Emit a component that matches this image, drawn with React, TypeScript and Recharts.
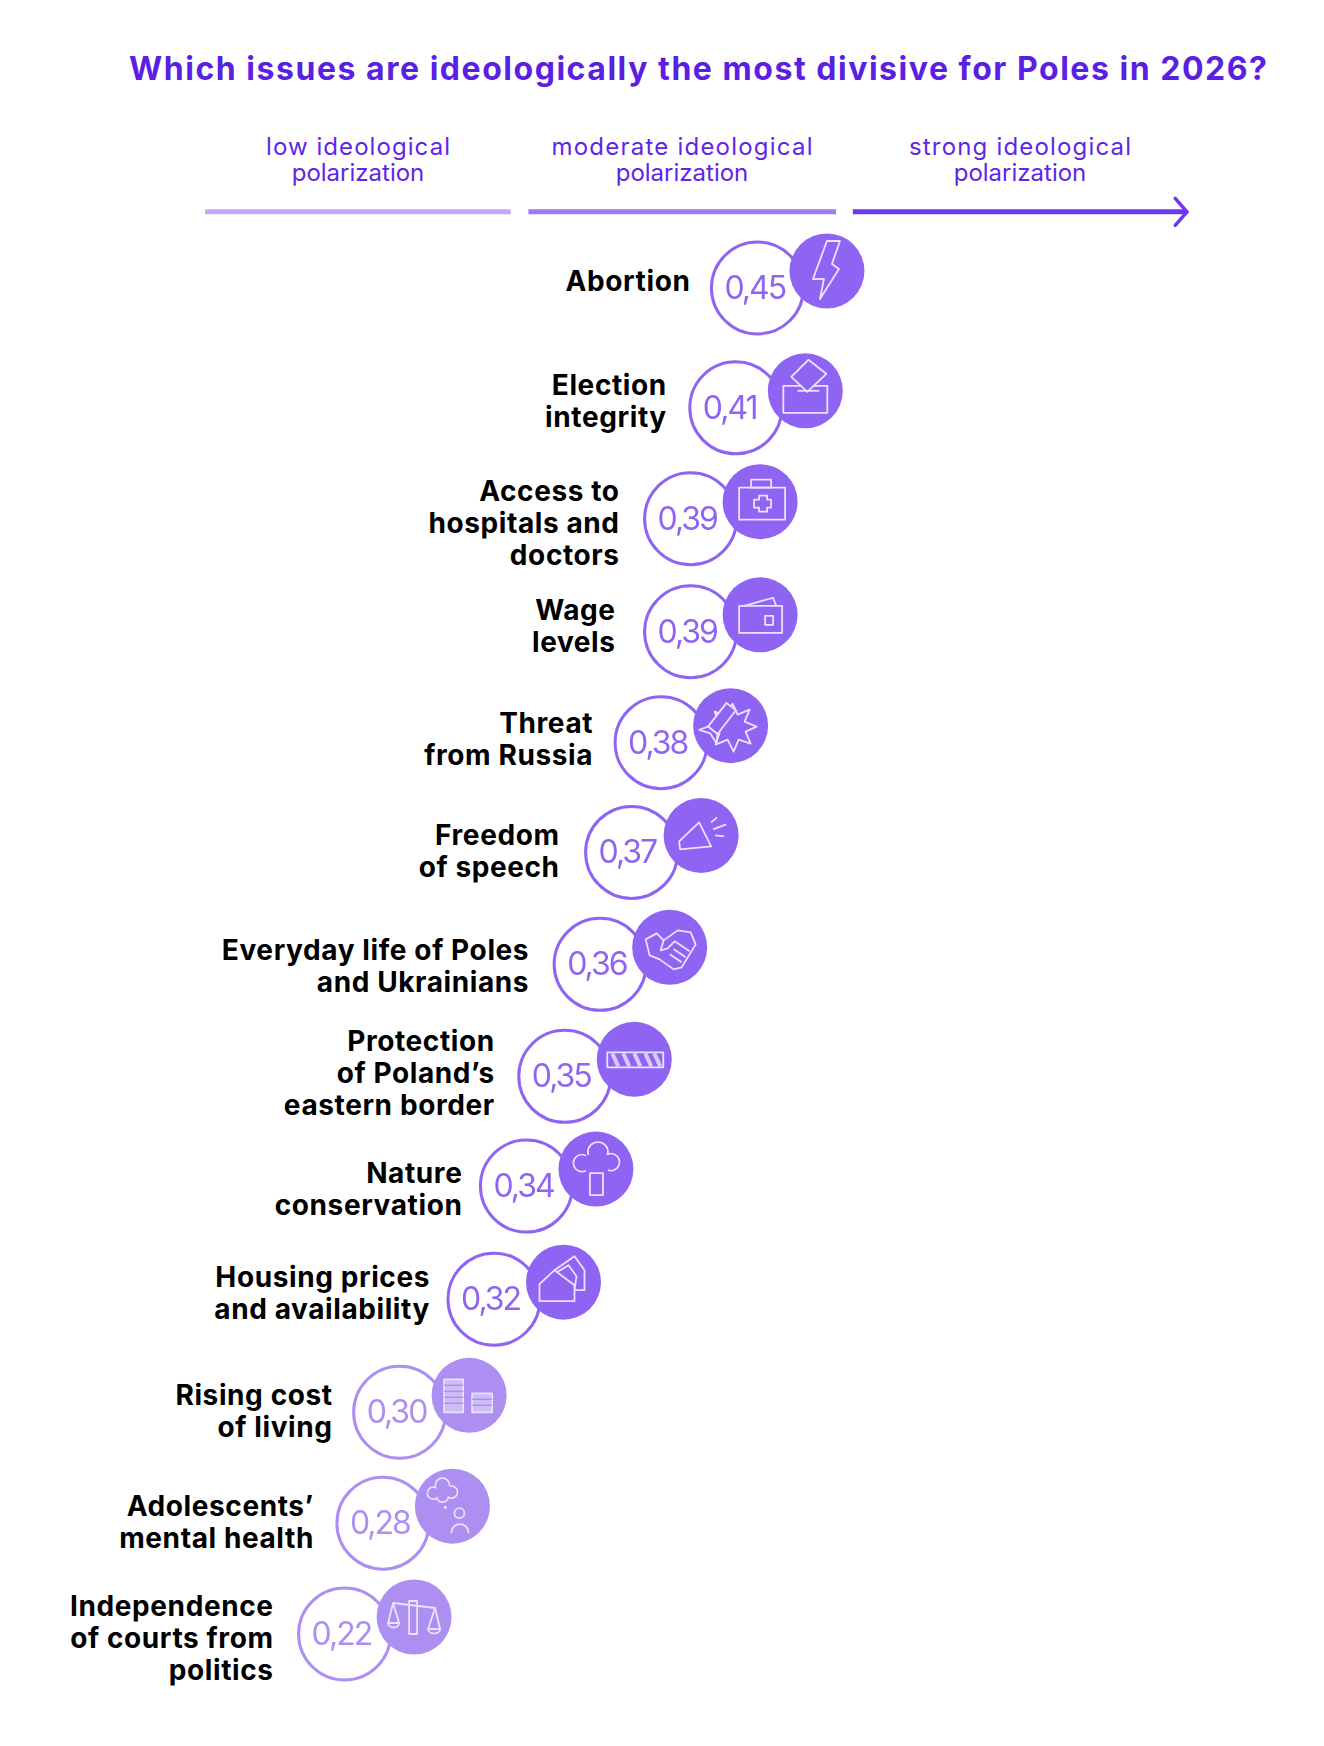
import React from 'react';
import { ScatterChart, Scatter, XAxis, YAxis, ReferenceLine } from 'recharts';

// Chart data, top row first
const issueLabels: string[][] = [
  ['Abortion'],
  ['Election', 'integrity'],
  ['Access to', 'hospitals and', 'doctors'],
  ['Wage', 'levels'],
  ['Threat', 'from Russia'],
  ['Freedom', 'of speech'],
  ['Everyday life of Poles', 'and Ukrainians'],
  ['Protection', 'of Poland’s', 'eastern border'],
  ['Nature', 'conservation'],
  ['Housing prices', 'and availability'],
  ['Rising cost', 'of living'],
  ['Adolescents’', 'mental health'],
  ['Independence', 'of courts from', 'politics'],
];
const polarization = [0.45, 0.41, 0.39, 0.39, 0.38, 0.37, 0.36, 0.35, 0.34, 0.32, 0.3, 0.28, 0.22];
// where each circle sits along the low -> strong arrow (0-100).
// the original does not place them linearly by the printed number
const arrowPosition = [56.2, 54.0, 49.4, 49.4, 46.4, 43.4, 40.2, 36.6, 32.7, 29.4, 19.8, 18.1, 14.2];
const rowPosition = [0, 1.07, 2.06, 3.07, 4.06, 5.04, 6.04, 7.04, 8.02, 9.03, 10.04, 11.03, 12.02];
const iconNames = ['bolt', 'ballot', 'medkit', 'wallet', 'blast', 'megaphone', 'handshake', 'fence', 'tree', 'houses', 'coins', 'mind', 'scales'];
const tierLabels = [['low ideological', 'polarization'], ['moderate ideological', 'polarization'], ['strong ideological', 'polarization']];
const tierCenters = [358, 682, 1020];
const tierWidths = [184, 261, 222];
const tierColors = ['#c2a8f6', '#9c78f1', '#6d38ee'];
const tierSpans = [[0, 31.1], [32.9, 64.2], [65.9, 99.9]];

// label tweaks per row (distance from circle centre, vertical nudge)
const labelGaps = [67, 69, 71, 75, 68, 72, 71, 70, 64, 64, 67, 69, 71];
const labelNudges = [-7, -7, 4, -6, -4, -1, 2, -3, 3, -6, -1, -1, 4];

const rows = polarization.map((value, i) => ({
  x: arrowPosition[i],
  y: rowPosition[i],
  value,
  lines: issueLabels[i],
  icon: iconNames[i],
  gap: labelGaps[i],
  nudge: labelNudges[i],
}));

const FONT = 'Inter, sans-serif';
const ARROW_ROW = -0.68;

const Icon = ({ name, bg }: { name: string; bg: string }) => {
  const line = { fill: 'none', stroke: '#eae2fc', strokeWidth: 1.8, strokeLinejoin: 'round' as const };
  const solid = { ...line, fill: bg };
  switch (name) {
    case 'bolt':
      return <polygon {...line} points="0,-30 13,-30 5,-7 12,-2 -7,28 -3,8 -14,8" />;
    case 'ballot':
      return (
        <g>
          <rect {...line} x={-22} y={-5} width={44} height={27} />
          <polygon {...solid} points="3,-31 21,-17 2,1 -14,-14" />
          <line {...line} x1={-8} y1={0} x2={14} y2={0} />
        </g>
      );
    case 'medkit':
      return (
        <g>
          <rect {...line} x={-9} y={-22} width={20} height={8} />
          <rect {...line} x={-21} y={-14} width={46} height={32} />
          <polygon {...line} points="-1,-6 7,-6 7,-2 11,-2 11,6 7,6 7,10 -1,10 -1,6 -6,6 -6,-2 -1,-2" />
        </g>
      );
    case 'wallet':
      return (
        <g>
          <polyline {...line} points="-16,-9 13,-17 16,-9" />
          <rect {...line} x={-21} y={-9} width={43} height={27} />
          <rect {...line} x={5} y={1} width={8} height={9} />
        </g>
      );
    case 'blast':
      return (
        <g>
          <polygon {...line} points="2,-22 7,-11 19,-16 14,-4 26,1 15,6 20,18 8,14 3,26 -3,14 -15,19 -11,7 -24,3 -12,-3 -16,-14 -6,-10" />
          <g transform="rotate(-52 -8 -8)">
            <rect {...solid} x={-24} y={-14} width={30} height={12} />
            <polygon {...solid} points="-24,-14 -32,-19 -28,-8 -32,3 -24,-2" />
          </g>
        </g>
      );
    case 'megaphone':
      return (
        <g>
          <polygon {...line} points="-2,-13 10,11 -21,14 -22,6" />
          <line {...line} x1={10} y1={-13} x2={16} y2={-18} />
          <line {...line} x1={12} y1={-6} x2={25} y2={-11} />
          <line {...line} x1={14} y1={0} x2={23} y2={1} />
        </g>
      );
    case 'handshake':
      return (
        <g>
          <polygon {...line} points="-24,-8 -13,-14 -6,-7 8,-17 21,-15 26,-3 12,20 4,22 -10,12 -20,8" />
          <polyline {...line} points="-6,-7 -9,3 -2,1 5,-6 20,4" />
          <line {...line} x1={4} y1={2} x2={16} y2={10} />
          <line {...line} x1={0} y1={7} x2={12} y2={15} />
        </g>
      );
    case 'fence':
      return (
        <g>
          <rect {...line} x={-27} y={-7} width={56} height={15} />
          {[-22, -11, 0, 11, 20].map((h) => (
            <line key={h} x1={h} y1={-6} x2={h + 6} y2={7} stroke="#d8caf9" strokeWidth={4} />
          ))}
        </g>
      );
    case 'tree':
      return (
        <g>
          <rect {...line} x={-6} y={4} width={13} height={22} />
          <circle {...line} cx={2} cy={-17} r={10} />
          <circle {...line} cx={-14} cy={-6} r={8.5} />
          <circle {...line} cx={15} cy={-7} r={8.5} />
          <circle cx={2} cy={-17} r={9} fill={bg} />
          <circle cx={-14} cy={-6} r={7.5} fill={bg} />
          <circle cx={15} cy={-7} r={7.5} fill={bg} />
          <rect x={-10} y={-14} width={22} height={16} fill={bg} />
        </g>
      );
    case 'houses':
      return (
        <g>
          <polygon {...line} points="-9,-12 11,-26 21,-12 21,8 -9,8" />
          <polygon {...solid} points="-13,-6 5,-17 13,-6 11,8 -13,8" />
          <polygon {...solid} points="-24,2 -9,-12 11,3 11,19 -24,19" />
        </g>
      );
    case 'coins':
      return (
        <g fill="#d8caf9">
          <rect {...line} x={-25} y={-16} width={19} height={33} fillOpacity={1} style={{ fill: '#cdbcf7' }} />
          <rect {...line} x={3} y={-2} width={20} height={19} style={{ fill: '#cdbcf7' }} />
          {[-10, -4, 2, 8].map((h) => (
            <line key={h} x1={-25} y1={h} x2={-6} y2={h} stroke={bg} strokeWidth={1.5} />
          ))}
          {[4, 10].map((h) => (
            <line key={h} x1={3} y1={h} x2={23} y2={h} stroke={bg} strokeWidth={1.5} />
          ))}
        </g>
      );
    case 'mind':
      return (
        <g>
          <circle {...line} cx={-10} cy={-21} r={7} />
          <circle {...line} cx={-19} cy={-13} r={6} />
          <circle {...line} cx={-1} cy={-14} r={6} />
          <circle {...line} cx={-10} cy={-10} r={6} />
          <circle cx={-10} cy={-21} r={6} fill={bg} />
          <circle cx={-19} cy={-13} r={5} fill={bg} />
          <circle cx={-1} cy={-14} r={5} fill={bg} />
          <circle cx={-10} cy={-10} r={5} fill={bg} />
          <rect x={-16} y={-20} width={14} height={10} fill={bg} />
          <circle cx={-7} cy={1} r={1.5} fill="#eae2fc" />
          <circle {...line} cx={7} cy={7} r={5} />
          <path {...line} d="M-1,27 C-1,15 16,15 16,27" />
        </g>
      );
    case 'scales':
      return (
        <g>
          <rect {...line} x={-5} y={-16} width={8} height={33} />
          <line {...line} x1={-21} y1={-14} x2={21} y2={-9} />
          <polygon {...line} points="-21,-14 -26,6 -15,6" />
          <path {...line} d="M-26,6 C-26,12 -15,12 -15,6" />
          <polygon {...line} points="21,-9 14,12 26,12" />
          <path {...line} d="M14,12 C14,18 26,18 26,12" />
        </g>
      );
    default:
      return null;
  }
};

const IssueMark = (props: any) => {
  const { cx, cy, payload } = props;
  const { value, lines, icon, gap, nudge } = payload;
  const color = value >= 0.32 ? '#9064f3' : '#ad8ff2';
  const firstBaseline = cy + nudge + 10 - ((lines.length - 1) * 32) / 2;
  return (
    <g>
      {lines.map((t: string, i: number) => (
        <text
          key={t}
          x={cx - gap}
          y={firstBaseline + i * 32}
          textAnchor="end"
          fontFamily={FONT}
          fontSize={28}
          fontWeight={700}
          letterSpacing={0.6}
          fill="#000"
        >
          {t}
        </text>
      ))}
      <g style={{ filter: 'blur(0.7px)' }}>
        <circle cx={cx} cy={cy} r={46} fill="#fff" stroke={color} strokeWidth={3} />
        <text
          x={cx - 33}
          y={cy + 11}
          fontFamily={FONT}
          fontSize={32}
          fontWeight={400}
          letterSpacing={-2}
          fill={color}
        >
          {value.toFixed(2).replace('.', ',')}
        </text>
        <g transform={`translate(${cx + 69.5} ${cy - 17})`}>
          <circle r={37.5} fill={color} />
          <Icon name={icon} bg={color} />
        </g>
      </g>
    </g>
  );
};

export default function App() {
  return (
    <div style={{ position: 'absolute', left: 0, top: 0, width: 1324, height: 1746 }}>
      <ScatterChart width={1324} height={1746} margin={{ top: 288, right: 136, bottom: 112, left: 205 }}>
        <XAxis type="number" dataKey="x" domain={[0, 100]} hide />
        <YAxis type="number" dataKey="y" domain={[0, 12.02]} reversed hide />
        {tierSpans.map(([a, b], i) => (
          <ReferenceLine
            key={a}
            segment={[{ x: a, y: ARROW_ROW }, { x: b, y: ARROW_ROW }]}
            stroke={tierColors[i]}
            strokeWidth={5}
            ifOverflow="visible"
          />
        ))}
        <ReferenceLine segment={[{ x: 98.7, y: -0.8 }, { x: 99.9, y: ARROW_ROW }]} stroke={tierColors[2]} strokeWidth={3.5} strokeLinecap="round" ifOverflow="visible" />
        <ReferenceLine segment={[{ x: 98.7, y: -0.56 }, { x: 99.9, y: ARROW_ROW }]} stroke={tierColors[2]} strokeWidth={3.5} strokeLinecap="round" ifOverflow="visible" />
        <Scatter data={rows} isAnimationActive={false} shape={IssueMark} />
        <text x={129} y={80} fontFamily={FONT} fontSize={32} fontWeight={700} fill="#5a1fe3" textLength={1138}>
          Which issues are ideologically the most divisive for Poles in 2026?
        </text>
        {tierLabels.map((pair, i) =>
          pair.map((t, j) => (
            <text
              key={t + i}
              x={tierCenters[i]}
              y={155 + j * 26}
              textAnchor="middle"
              fontFamily={FONT}
              fontSize={24}
              fontWeight={400}
              fill="#5f25e8"
              textLength={j === 0 ? tierWidths[i] : undefined}
            >
              {t}
            </text>
          )),
        )}
      </ScatterChart>
    </div>
  );
}
